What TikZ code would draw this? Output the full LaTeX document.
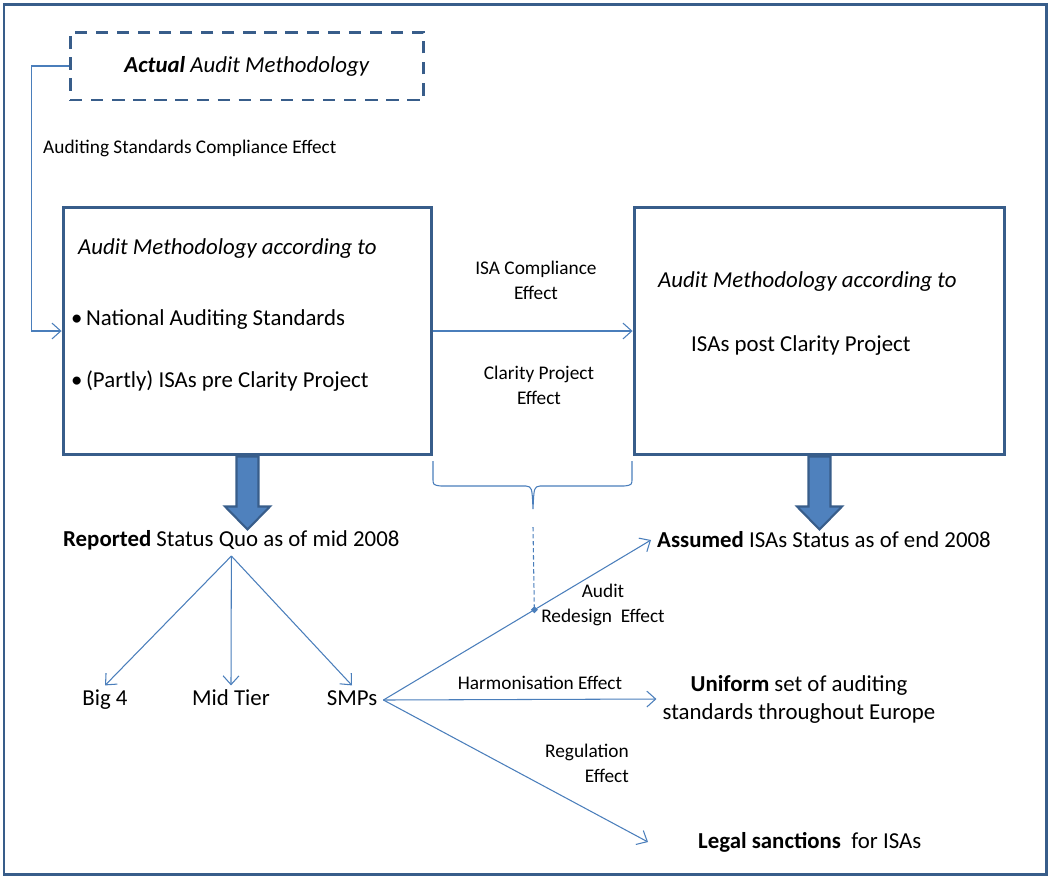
\documentclass[tikz,border=0pt]{standalone}
\usepackage{fontspec}
\setmainfont{Carlito}
\usetikzlibrary{arrows.meta,calc,positioning}
\definecolor{frameblue}{HTML}{385D8A}
\definecolor{lineblue}{HTML}{4A7EBB}
\definecolor{fillblue}{HTML}{4F81BD}
\tikzset{
  big/.style={font=\fontsize{13}{16}\selectfont},
  small/.style={font=\fontsize{11}{14.3}\selectfont},
  leaf/.style={big,text height=1.6ex,text depth=0.4ex},
  box/.style={draw=frameblue,line width=1.7pt,minimum height=4.96cm},
  conn/.style={draw=lineblue,line width=0.6pt,-{Straight Barb[length=5pt,width=9pt]}},
  fatarrow/.style={draw=frameblue,fill=fillblue,line width=1.2pt,line join=miter}
}

\begin{document}
\begin{tikzpicture}[x=0.02cm,y=-0.02cm]
    \useasboundingbox (0,0) rectangle (1051,877);
    \draw[frameblue,line width=1.7pt] (4,4) rectangle (1046,874);

    % top: actual methodology
    \node[draw=frameblue,line width=1.7pt,dash pattern=on 7pt off 5pt,
      minimum width=7.08cm,minimum height=1.36cm,big] (actual) at (247,66)
      {\textit{\textbf{Actual} Audit Methodology}};
    \node[small,anchor=west] (complbl) at (37,148) {Auditing Standards Compliance Effect};

    % the two methodology boxes
    \node[box,minimum width=7.38cm] (lbox) at (247.5,331) {};
    \node[box,minimum width=7.42cm] (rbox) at (819.5,331) {};
    \node[big,anchor=west] (lhead) at (72,249) {\textit{Audit Methodology according to}};
    \node[big,anchor=west] (lnat) at (65,320) {\textbullet\hspace{2pt}National Auditing Standards};
    \node[big,anchor=west] (lisa) at (65,381) {\textbullet\hspace{2pt}(Partly) ISAs pre Clarity Project};
    \node[big,anchor=west] (rhead) at (652,282) {\textit{Audit Methodology according to}};
    \node[big,anchor=west] (risa) at (685,346) {ISAs post Clarity Project};

    \draw[conn] (actual.west) -- ++(-37,0) |- (lbox.west);
    \draw[conn] (lbox.east) -- (rbox.west);
    \node[small,align=center] (isalbl) at (536,280) {ISA Compliance\\Effect};
    \node[small,align=center] (claritylbl) at (539,385) {Clarity Project\\Effect};

    % brace under the gap
    \draw[lineblue,line width=0.6pt] (433,461) -- (433,478) .. controls (433,485) .. (441,486)
      -- (526,486) .. controls (532,487) .. (533,509) .. controls (534,487) .. (540,486)
      -- (624,486) .. controls (632,485) .. (632,478) -- (632,461);
    \coordinate (bracetip) at (533,527);

    % block arrows
    \draw[fatarrow] (lbox.south) ++(-11,0) -- ++(0,50) -- ++(-11.5,0) -- ++(22.5,23)
      -- ++(22.5,-23) -- ++(-11.5,0) -- ++(0,-50) -- cycle;
    \draw[fatarrow] (rbox.south) ++(-11,0) -- ++(0,50) -- ++(-11.5,0) -- ++(22.5,23)
      -- ++(22.5,-23) -- ++(-11.5,0) -- ++(0,-50) -- cycle;

    % status lines
    \node[big,anchor=west] (reported) at (57,540) {\textbf{Reported} Status Quo as of mid 2008};
    \node[big,anchor=west] (assumed) at (651,540) {\textbf{Assumed} ISAs Status as of end 2008};
    \node[leaf] (big4) at (105,700) {Big 4};
    \node[leaf] (midtier) at (231,700) {Mid Tier};
    \node[leaf] (smps) at (352,700) {SMPs};
    \draw[conn] (reported.south) -- (big4.north);
    \draw[conn] (reported.south) -- (midtier.north);
    \draw[conn] (reported.south) -- (smps.north);

    % effects of the SMPs
    \node[big,align=center] (uniform) at (799,699) {\textbf{Uniform} set of auditing\\standards throughout Europe};
    \node[big,anchor=west] (legal) at (692,842) {\textbf{Legal sanctions}\ \ for ISAs};
    \draw[conn] (smps.east) -- (assumed.west) coordinate[pos=0.564] (redesign);
    \draw[conn] (smps.east) -- (uniform.west);
    \draw[conn] (smps.east) -- ($(legal.west)+(-44,0)$);
    \node[small,align=center] (redesignlbl) at (603,605) {Audit\\Redesign\ \ Effect};
    \node[small] (harmlbl) at (540,683) {Harmonisation Effect};
    \node[small,align=right] (reglbl) at (587,763) {Regulation\\Effect};

    \draw[lineblue,line width=0.6pt,dash pattern=on 2.5pt off 1.5pt,
      -{Diamond[length=4pt,width=4pt]},shorten >=-2pt] (bracetip) -- (redesign);
\end{tikzpicture}
\end{document}
